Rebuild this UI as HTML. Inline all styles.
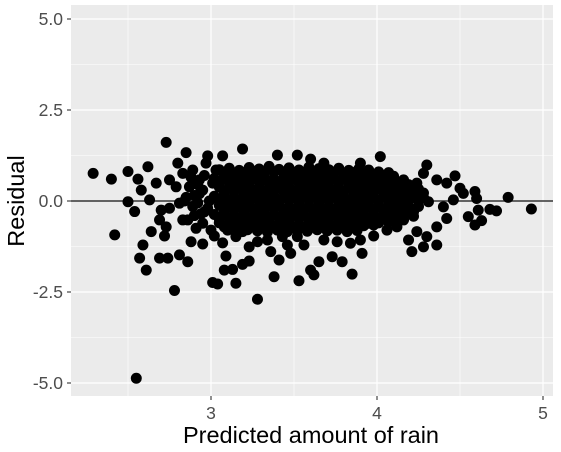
<!DOCTYPE html>
<html><head><meta charset="utf-8"><style>
body{margin:0;background:#fff;}
svg{display:block;font-family:"Liberation Sans",Arial,sans-serif;}
</style></head><body>
<svg id="chart" width="561" height="452">
<rect x="71" y="5" width="482" height="391" fill="#EBEBEB"/>
<g id="grid"></g>
<line id="zeroline" stroke="#333" stroke-width="1.5"/>
<g id="pts"></g>
<g id="axes"></g>
<text x="311" y="443" text-anchor="middle" font-size="23.5" fill="#000">Predicted amount of rain</text>
<text transform="translate(24,201) rotate(-90)" text-anchor="middle" font-size="23.5" fill="#000">Residual</text>
</svg>
<script>
const xTicks=[3,4,5];
const xTickLabels=["3","4","5"];
const yTicks=[5,2.5,0,-2.5,-5];
const yTickLabels=["5.0","2.5","0.0","-2.5","-5.0"];
const xMinor=[2.5,3.5,4.5];
const yMinor=[3.75,1.25,-1.25,-3.75];
const predicted=[
2.29,2.40,2.50,2.42,2.50,2.54,2.73,2.85,2.62,2.56,2.64,2.59,2.57,2.61,2.69,2.74,2.78,2.81,2.86,2.88,2.95,2.72,2.73,2.69,2.83,2.70,2.75,2.81,2.63,2.58,2.67,2.75,2.79,2.80,2.98,3.07,3.19,3.40,3.52,3.60,3.68,3.90,4.02,4.30,4.47,4.59,4.60,4.50,4.79,4.93,4.68,4.72,4.59,4.63,4.55,4.61,4.36,4.28,4.21,4.19,4.30,4.24,4.36,4.42,4.42,4.36,4.28,4.24,4.52,4.46,4.40,3.91,3.85,3.79,3.73,3.65,3.60,3.62,3.53,3.38,3.41,3.28,3.15,3.01,3.04,3.08,3.13,3.19,3.23,3.09,3.07,3.02,3.23,3.28,3.36,3.48,3.34,3.46,3.56,3.15,3.19,3.43,3.52,3.68,3.76,3.84,3.90,3.98,4.06,4.12,4.16,2.91,2.95,3.00,2.86,2.83,2.89,2.93,2.97,3.03,2.87,2.95,3.01,2.84,2.92,2.90,2.96,2.55,
2.88,2.93,2.98,2.90,2.96,2.85,2.92,2.99,2.94,2.89,
3.05,3.11,3.17,3.23,3.29,3.35,3.41,3.47,3.53,3.59,3.65,3.71,3.77,3.83,3.89,3.95,4.01,4.07,
3.02,3.08,3.14,3.20,3.26,3.32,3.38,3.44,3.50,3.56,3.62,3.68,3.74,3.80,3.86,3.92,3.98,4.04,4.10,4.16,
3.05,3.11,3.17,3.23,3.29,3.35,3.41,3.47,3.53,3.59,3.65,3.71,3.77,3.83,3.89,3.95,4.01,4.07,4.13,4.19,4.25,
3.02,3.08,3.14,3.20,3.26,3.32,3.38,3.44,3.50,3.56,3.62,3.68,3.74,3.80,3.86,3.92,3.98,4.04,4.10,4.16,4.22,4.28,
3.05,3.11,3.17,3.23,3.29,3.35,3.41,3.47,3.53,3.59,3.65,3.71,3.77,3.83,3.89,3.95,4.01,4.07,4.13,4.19,4.25,
3.02,3.08,3.14,3.20,3.26,3.32,3.38,3.44,3.50,3.56,3.62,3.68,3.74,3.80,3.86,3.92,3.98,4.04,4.10,4.16,4.22,
3.05,3.11,3.17,3.23,3.29,3.35,3.41,3.47,3.53,3.59,3.65,3.71,3.77,3.83,3.89,3.95,4.01,4.07,
3.10,3.16,3.22,3.28,3.34,3.40,3.46,3.52,3.58,3.64,3.70,3.76,3.82,3.88,
3.08,3.14,3.20,3.26,3.32,3.38,3.44,3.50,3.56,3.62,3.68,3.74,3.80,3.86,3.92,3.98,4.04,4.10,
3.05,3.11,3.17,3.23,3.29,3.35,3.41,3.47,3.53,3.59,3.65,3.71,3.77,3.83,3.89,3.95,4.01,4.07,4.13,4.19,
3.08,3.14,3.20,3.26,3.32,3.38,3.44,3.50,3.56,3.62,3.68,3.74,3.80,3.86,3.92,3.98,4.04,4.10,4.16,4.22,4.28,
3.05,3.11,3.17,3.23,3.29,3.35,3.41,3.47,3.53,3.59,3.65,3.71,3.77,3.83,3.89,3.95,4.01,4.07,4.13,4.19,4.25,4.31,
3.08,3.14,3.20,3.26,3.32,3.38,3.44,3.50,3.56,3.62,3.68,3.74,3.80,3.86,3.92,3.98,4.04,4.10,4.16,4.22,
3.05,3.11,3.17,3.23,3.29,3.35,3.41,3.47,3.53,3.59,3.65,3.71,3.77,3.83,3.89,3.95,4.01,4.07,4.13,
3.08,3.14,3.20,3.26,3.32,3.38,3.44,3.50,3.56,3.62,3.68,3.74,3.80,3.86,3.92,3.98
];
const residual=[
0.76,0.60,0.81,-0.93,-0.02,-0.29,1.61,1.33,0.94,0.60,-0.84,-1.21,-1.57,-1.90,-1.57,-1.57,-2.46,-1.48,-1.67,-1.12,-1.18,-0.96,-0.71,-0.52,-0.52,-0.25,-0.20,-0.06,0.03,0.30,0.49,0.58,0.39,1.04,1.24,1.24,1.43,1.26,1.26,1.15,1.04,1.04,1.22,0.99,0.69,0.26,0.07,0.35,0.10,-0.22,-0.23,-0.27,-0.66,-0.54,-0.43,-0.25,-1.21,-1.26,-1.39,-1.07,-0.98,-0.84,-0.71,-0.48,0.49,0.58,0.76,0.49,0.21,0.03,-0.16,-1.44,-2.01,-1.67,-1.53,-1.67,-1.90,-2.03,-2.19,-2.08,-1.62,-2.70,-2.26,-2.24,-2.28,-1.90,-1.88,-1.74,-1.65,-1.51,-1.15,-0.96,-1.26,-1.12,-1.39,-1.44,-1.07,-1.21,-1.21,-0.98,-0.84,-0.98,-0.98,-1.07,-1.12,-1.16,-1.07,-0.96,-0.80,-0.71,-0.52,-0.75,-0.61,-0.80,-0.52,0.76,0.85,0.58,1.04,0.85,0.39,0.30,0.49,0.00,-0.05,0.15,-0.30,-4.87,
0.65,0.20,-0.20,-0.40,0.70,0.10,0.45,0.00,-0.35,-0.15,
0.86,0.90,0.84,0.92,0.88,0.95,0.87,0.91,0.85,0.93,0.89,0.86,0.90,0.84,0.88,0.85,0.80,0.78,
0.62,0.66,0.60,0.65,0.63,0.67,0.61,0.64,0.62,0.66,0.60,0.65,0.63,0.61,0.66,0.62,0.64,0.60,0.63,0.58,
0.38,0.36,0.40,0.37,0.39,0.35,0.41,0.38,0.36,0.40,0.37,0.39,0.35,0.38,0.40,0.36,0.39,0.37,0.35,0.38,0.33,
0.13,0.15,0.11,0.14,0.12,0.16,0.13,0.10,0.15,0.12,0.14,0.11,0.16,0.13,0.12,0.15,0.10,0.14,0.12,0.13,0.11,0.10,
-0.12,-0.10,-0.14,-0.11,-0.13,-0.09,-0.12,-0.15,-0.10,-0.13,-0.11,-0.14,-0.12,-0.10,-0.13,-0.11,-0.14,-0.12,-0.10,-0.13,-0.15,
-0.37,-0.35,-0.39,-0.36,-0.38,-0.34,-0.37,-0.40,-0.35,-0.38,-0.36,-0.39,-0.37,-0.35,-0.38,-0.36,-0.39,-0.37,-0.35,-0.40,-0.42,
-0.60,-0.62,-0.58,-0.61,-0.63,-0.59,-0.62,-0.60,-0.64,-0.61,-0.58,-0.62,-0.60,-0.63,-0.59,-0.61,-0.60,-0.58,
-0.80,-0.83,-0.79,-0.82,-0.85,-0.80,-0.84,-0.81,-0.83,-0.79,-0.82,-0.80,-0.84,-0.81,
0.76,0.74,0.78,0.75,0.77,0.79,0.76,0.74,0.78,0.75,0.77,0.76,0.74,0.78,0.75,0.72,0.70,0.68,
0.50,0.52,0.49,0.51,0.53,0.50,0.48,0.52,0.50,0.51,0.49,0.53,0.50,0.52,0.48,0.51,0.50,0.49,0.47,0.45,
0.25,0.27,0.24,0.26,0.25,0.28,0.24,0.26,0.25,0.27,0.23,0.26,0.25,0.27,0.24,0.26,0.25,0.24,0.26,0.23,0.22,
0.00,0.02,-0.01,0.01,0.00,0.03,-0.02,0.01,0.00,0.02,-0.01,0.01,0.00,0.02,-0.01,0.01,0.00,0.02,-0.01,0.00,0.01,-0.02,
-0.25,-0.23,-0.26,-0.24,-0.25,-0.22,-0.26,-0.24,-0.25,-0.23,-0.26,-0.24,-0.25,-0.23,-0.26,-0.24,-0.25,-0.27,-0.28,-0.30,
-0.49,-0.47,-0.50,-0.48,-0.51,-0.49,-0.47,-0.50,-0.48,-0.51,-0.49,-0.47,-0.50,-0.48,-0.51,-0.49,-0.52,-0.54,-0.55,
-0.71,-0.70,-0.73,-0.71,-0.72,-0.70,-0.73,-0.71,-0.72,-0.70,-0.73,-0.71,-0.72,-0.70,-0.68,-0.66
];
const NS="http://www.w3.org/2000/svg";
const X0=71,X1=553,Y0=5,Y1=396;
function sx(v){return 211+(v-3)*166;}
function sy(v){return 201-v*36.4;}
function mk(tag,attrs,parent){const e=document.createElementNS(NS,tag);for(const k in attrs)e.setAttribute(k,attrs[k]);parent.appendChild(e);return e;}
const grid=document.getElementById('grid');
xMinor.forEach(v=>{const l=mk('line',{x1:sx(v),x2:sx(v),y1:Y0,y2:Y1,stroke:'#fff','stroke-width':0.6},grid);

});
yMinor.forEach(v=>{const l=mk('line',{x1:X0,x2:X1,y1:sy(v),y2:sy(v),stroke:'#fff','stroke-width':0.6},grid);

});
xTicks.forEach(v=>{const l=mk('line',{x1:sx(v),x2:sx(v),y1:Y0,y2:Y1,stroke:'#fff','stroke-width':1.2},grid);

});
yTicks.forEach(v=>{const l=mk('line',{x1:X0,x2:X1,y1:sy(v),y2:sy(v),stroke:'#fff','stroke-width':1.2},grid);

});
const z=document.getElementById('zeroline');
z.setAttribute('x1',X0);z.setAttribute('x2',X1);z.setAttribute('y1',sy(0));z.setAttribute('y2',sy(0));
const pts=document.getElementById('pts');
predicted.forEach((p,i)=>{const c=mk('circle',{cx:sx(p),cy:sy(residual[i]),r:5.5,fill:'#000'},pts);

});
const axes=document.getElementById('axes');
xTicks.forEach((v,i)=>{const t=mk('line',{x1:sx(v),x2:sx(v),y1:Y1,y2:Y1+4,stroke:'#333','stroke-width':1.1},axes);


const tx=mk('text',{x:sx(v),y:419,'text-anchor':'middle','font-size':17.5,fill:'#4D4D4D'},axes);tx.textContent=xTickLabels[i];

});
yTicks.forEach((v,i)=>{const t=mk('line',{x1:X0-4,x2:X0,y1:sy(v),y2:sy(v),stroke:'#333','stroke-width':1.1},axes);


const tx=mk('text',{x:63,y:sy(v)+6,'text-anchor':'end','font-size':17.5,fill:'#4D4D4D'},axes);tx.textContent=yTickLabels[i];

});
</script>
</body></html>
